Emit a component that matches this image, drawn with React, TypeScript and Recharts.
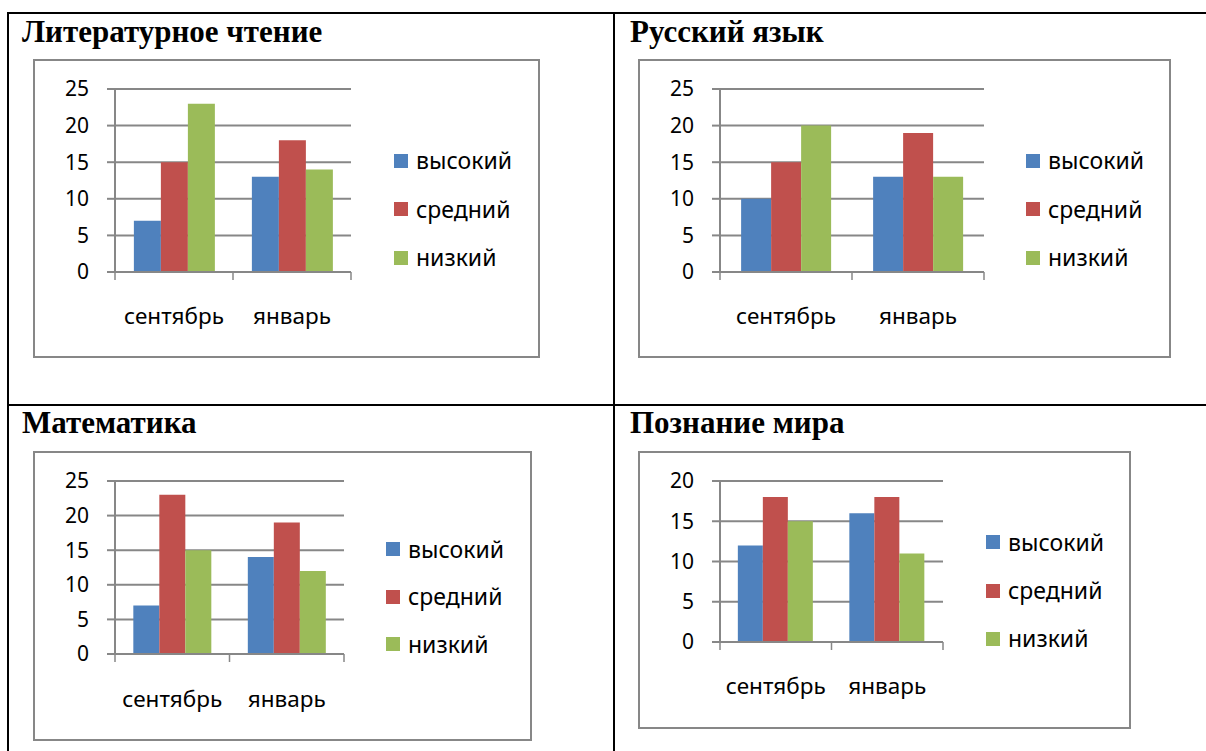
import React from "react"
import { BarChart, Bar, XAxis, YAxis, CartesianGrid, Legend } from "recharts"

const months = ["сентябрь", "январь"]
const seriesNames = ["высокий", "средний", "низкий"]
const seriesColors = ["#4F81BD", "#C0504D", "#9BBB59"]
const subjects = ["Литературное чтение", "Русский язык", "Математика", "Познание мира"]

// values per subject: высокий / средний / низкий for сентябрь, январь
const litHigh = [7, 13]
const litMid = [15, 18]
const litLow = [23, 14]
const rusHigh = [10, 13]
const rusMid = [15, 19]
const rusLow = [20, 13]
const mathHigh = [7, 14]
const mathMid = [23, 19]
const mathLow = [15, 12]
const worldHigh = [12, 16]
const worldMid = [18, 18]
const worldLow = [15, 11]

const yTicks25 = [0, 5, 10, 15, 20, 25]
const yTicks20 = [0, 5, 10, 15, 20]

const keys = ["high", "mid", "low"]
const GRAY = "#878787"
const FONT = "'Noto Sans', sans-serif"
const CAT_FS = 22.5
const Y_W = 60
const CAT_H = 60

const panels = [
  {
    title: subjects[0], series: [litHigh, litMid, litLow], yTicks: yTicks25,
    titleX: 22, titleTop: 16,
    box: { x: 33, y: 59, w: 507, h: 299 },
    plot: { l: 115, r: 351, t: 89, b: 272 },
    legend: { x: 394, y: 160.5, step: 48.5 }, catY: 315,
  },
  {
    title: subjects[1], series: [rusHigh, rusMid, rusLow], yTicks: yTicks25,
    titleX: 630, titleTop: 16,
    box: { x: 638, y: 59, w: 533, h: 299 },
    plot: { l: 720, r: 984, t: 89, b: 272 },
    legend: { x: 1026, y: 160.5, step: 48.5 }, catY: 315,
  },
  {
    title: subjects[2], series: [mathHigh, mathMid, mathLow], yTicks: yTicks25,
    titleX: 22, titleTop: 407,
    box: { x: 33, y: 451, w: 499, h: 290 },
    plot: { l: 115, r: 344, t: 481, b: 654 },
    legend: { x: 386, y: 549, step: 47.5 }, catY: 698,
  },
  {
    title: subjects[3], series: [worldHigh, worldMid, worldLow], yTicks: yTicks20,
    titleX: 630, titleTop: 407,
    box: { x: 638, y: 451, w: 493, h: 278 },
    plot: { l: 720, r: 943, t: 481, b: 642 },
    legend: { x: 986, y: 542.5, step: 48.2 }, catY: 685,
  },
]

function LegendBox({ payload, step }: any) {
  const items = [...(payload || [])].sort(
    (a: any, b: any) => seriesNames.indexOf(a.value) - seriesNames.indexOf(b.value)
  )
  return (
    <div style={{ fontFamily: FONT, fontSize: 23, color: "#000" }}>
      {items.map((p: any) => (
        <div key={p.value} style={{ height: step, display: "flex", alignItems: "center" }}>
          <span style={{ width: 14, height: 14, background: p.color, marginRight: 8, display: "inline-block" }} />
          <span style={{ lineHeight: 1 }}>{p.value}</span>
        </div>
      ))}
    </div>
  )
}

// category label plus Excel-style tick marks on the category boundaries
function CatTick(props: any) {
  const { x, y, payload, index, visibleTicksCount, band, margin } = props
  const axisY = y - margin
  const left = x - band / 2
  const right = x + band / 2
  return (
    <g>
      <line x1={left} x2={left} y1={axisY} y2={axisY + 8} stroke={GRAY} strokeWidth={1.5} />
      {index === visibleTicksCount - 1 && (
        <line x1={right} x2={right} y1={axisY} y2={axisY + 8} stroke={GRAY} strokeWidth={1.5} />
      )}
      <text x={x} y={y} dy={0.71 * CAT_FS} textAnchor="middle" fontSize={CAT_FS} fontFamily={FONT} fill="#000">
        {payload.value}
      </text>
    </g>
  )
}

function SubjectChart({ p }: { p: (typeof panels)[number] }) {
  const data = months.map((name, i) => ({
    name,
    high: p.series[0][i],
    mid: p.series[1][i],
    low: p.series[2][i],
  }))
  const ox = p.box.x + 2
  const oy = p.box.y + 2
  const cw = p.box.w - 4
  const ch = p.box.h - 4
  const margin = {
    top: p.plot.t - oy,
    left: p.plot.l - ox - Y_W,
    right: ox + cw - p.plot.r,
    bottom: oy + ch - p.plot.b - CAT_H,
  }
  const yMax = p.yTicks[p.yTicks.length - 1]
  const band = (p.plot.r - p.plot.l) / months.length
  const tickMargin = p.catY + 9 - 0.71 * CAT_FS - p.plot.b

  return (
    <div
      style={{
        position: "absolute",
        left: p.box.x,
        top: p.box.y,
        width: p.box.w,
        height: p.box.h,
        boxSizing: "border-box",
        border: `2px solid ${GRAY}`,
        background: "#fff",
      }}
    >
      <BarChart
        width={cw}
        height={ch}
        data={data}
        margin={margin}
        barCategoryGap="16%"
        barGap={0}
        style={{ fontFamily: FONT }}
      >
        <CartesianGrid vertical={false} stroke={GRAY} strokeWidth={2} strokeOpacity={1} />
        <XAxis
          dataKey="name"
          height={CAT_H}
          interval={0}
          axisLine={{ stroke: GRAY, strokeWidth: 2 }}
          tickLine={false}
          tickSize={0}
          tickMargin={tickMargin}
          tick={(props: any) => <CatTick {...props} band={band} margin={tickMargin} />}
        />
        <YAxis
          width={Y_W}
          domain={[0, yMax]}
          ticks={p.yTicks}
          interval={0}
          tickSize={8}
          tickMargin={18}
          axisLine={{ stroke: GRAY, strokeWidth: 2 }}
          tickLine={{ stroke: GRAY, strokeWidth: 2 }}
          tick={{ fontSize: 21, fill: "#000", fontFamily: FONT }}
        />
        {keys.map((k, i) => (
          <Bar
            key={k}
            dataKey={k}
            name={seriesNames[i]}
            fill={seriesColors[i]}
            isAnimationActive={false}
          />
        ))}
        <Legend
          layout="horizontal"
          align="center"
          verticalAlign="middle"
          wrapperStyle={{
            left: p.legend.x - ox,
            top: p.legend.y - p.legend.step / 2 - oy,
            width: "auto",
            height: "auto",
          }}
          content={(props: any) => <LegendBox payload={props.payload} step={p.legend.step} />}
        />
      </BarChart>
    </div>
  )
}

export default function App() {
  const line = "#000"
  return (
    <div style={{ position: "absolute", left: 0, top: 0, width: 1206, height: 751, background: "#fff", overflow: "hidden" }}>
      {/* table borders */}
      <div style={{ position: "absolute", left: 7, top: 12, width: 1199, height: 2, background: line }} />
      <div style={{ position: "absolute", left: 7, top: 404, width: 1199, height: 2, background: line }} />
      <div style={{ position: "absolute", left: 7, top: 12, width: 2, height: 739, background: line }} />
      <div style={{ position: "absolute", left: 613, top: 12, width: 2, height: 739, background: line }} />

      {panels.map((p) => (
        <React.Fragment key={p.title}>
          <div
            style={{
              position: "absolute",
              left: p.titleX,
              top: p.titleTop,
              fontFamily: "'Liberation Serif', 'Times New Roman', serif",
              fontWeight: "bold",
              fontSize: 31,
              lineHeight: 1,
              color: "#000",
              whiteSpace: "nowrap",
            }}
          >
            {p.title}
          </div>
          <SubjectChart p={p} />
        </React.Fragment>
      ))}
    </div>
  )
}
